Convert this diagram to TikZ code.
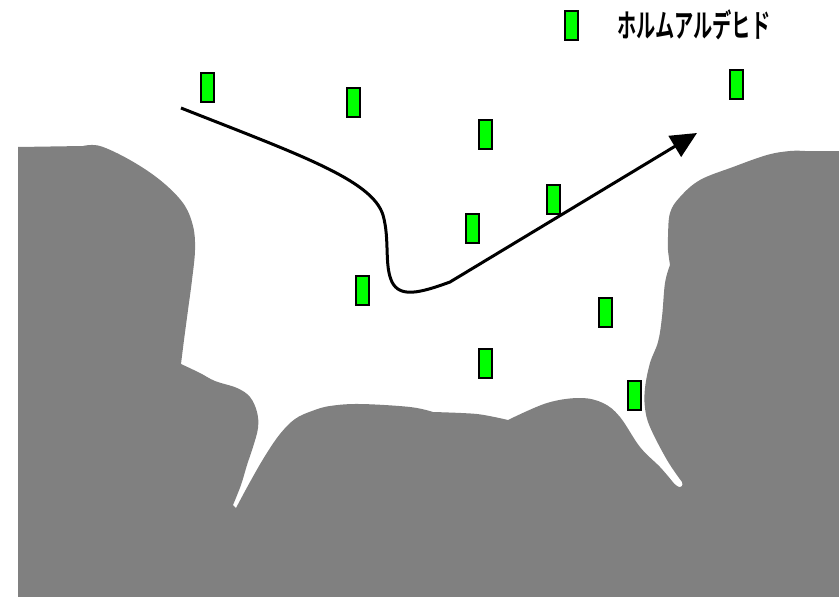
\documentclass[tikz,border=0pt]{standalone}
\usepackage{fontspec}
\newfontfamily\jpfont{Noto Sans CJK JP Bold}
\usetikzlibrary{arrows.meta}
\definecolor{rockgray}{RGB}{128,128,128}
\definecolor{markergreen}{RGB}{0,255,0}
\tikzset{
  marker/.style={draw=black, fill=markergreen, line width=2pt,
    minimum width=13pt, minimum height=29pt, inner sep=0pt},
  rock/.style={fill=rockgray},
  flow/.style={line width=3pt, -{Triangle[length=26pt,width=24pt]}},
  legendtext/.style={anchor=west, inner sep=0pt,
    font=\jpfont\fontsize{32}{32}\selectfont},
}
\begin{document}
\begin{tikzpicture}[x=1pt,y=-1pt]
\useasboundingbox (0,0) rectangle (839,597);

% rock walls and floor around the channel
\fill[rock] (18,147) -- (83,146)
  -- plot[smooth, tension=0.6] coordinates {(83,146) (100,146) (130,160) (160,180)
    (183,203) (193,226) (195,250) (192,280) (188,310) (184,340) (181,364)}
  -- plot[smooth, tension=0.6] coordinates {(181,364) (200,373) (215,381) (237,388)
    (250,397) (257,412) (258,428) (253,447) (247,465) (241,485) (233,505)}
  -- (236,508)
  -- plot[smooth, tension=0.6] coordinates {(236,508) (250,482) (265,456) (280,434)
    (295,419) (312,411) (330,406) (360,404) (410,407) (433,412)}
  -- plot[smooth, tension=0.5] coordinates {(433,412) (477,414) (508,420)}
  -- plot[smooth, tension=0.6] coordinates {(508,420) (547,403) (580,398) (603,403)
    (620,417) (640,447) (660,467) (672,481)}
  .. controls (678,489) and (684,489) .. (682,482)
  -- plot[smooth, tension=0.6] coordinates {(682,482) (667,460) (650,427) (645,408)
    (645,388) (650,363) (658,342) (662,317) (665,283) (670,265)}
  -- plot[smooth, tension=0.6] coordinates {(670,265) (668,250) (668,237) (670,213)
    (680,197) (700,180) (733,167) (767,155) (790,151) (805,151)}
  -- (839,151) -- (839,597) -- (18,597) -- cycle;

% tracer markers
\node[marker] (m1) at (207,87) {};
\node[marker] (m2) at (353,102) {};
\node[marker] (m3) at (485,134) {};
\node[marker] (m4) at (553,199) {};
\node[marker] (m5) at (472,228) {};
\node[marker] (m6) at (362,290) {};
\node[marker] (m7) at (605,312) {};
\node[marker] (m8) at (485,363) {};
\node[marker] (m9) at (634,395) {};
\node[marker] (m10) at (736,84) {};

% legend
\node[marker] (key) at (571,25) {};
\node[legendtext] (keylabel) at (617,25) {\scalebox{0.6}[1]{ホルムアルデヒド}};

% flow path
\coordinate (flowstart) at (181,108);
\coordinate (flowend) at (697,133);
\draw[flow] (flowstart) .. controls (300,155) and (372,180) .. (383,215)
  .. controls (390,240) and (384,265) .. (392,282)
  .. controls (400,298) and (420,293) .. (450,282)
  -- (flowend);
\end{tikzpicture}
\end{document}
